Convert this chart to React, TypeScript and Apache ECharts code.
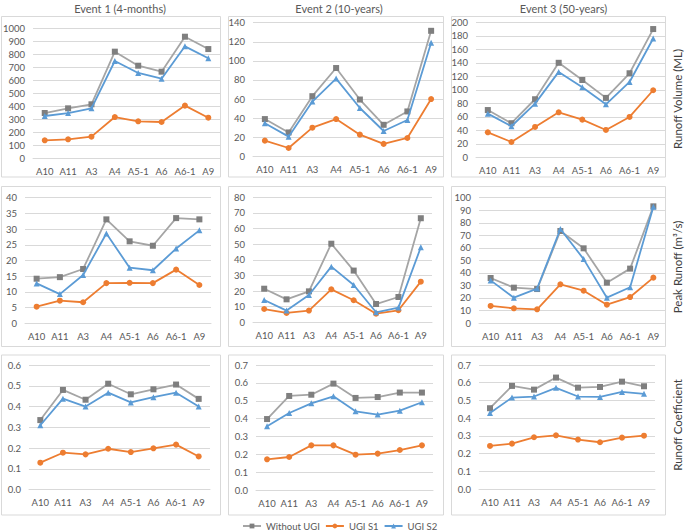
import React, { useEffect, useRef } from "react";
import * as echarts from "echarts";

const categories = ["A10", "A11", "A3", "A4", "A5-1", "A6", "A6-1", "A9"];
const seriesNames = ["Without UGI", "UGI S1", "UGI S2"];
const eventTitles = ["Event 1 (4-months)", "Event 2 (10-years)", "Event 3 (50-years)"];
const rowLabels = ["Runoff Volume (ML)", "Peak Runoff (m\u00b3/s)", "Runoff Coefficient"];

// Runoff Volume (ML)
const volE1Without = [346, 382, 413, 818, 710, 664, 933, 838];
const volE1S1 = [136, 144, 164, 315, 282, 277, 403, 310];
const volE1S2 = [323, 346, 382, 746, 654, 610, 859, 767];
const volE2Without = [39, 25, 63, 92.5, 59.5, 33, 47, 131.5];
const volE2S1 = [16.4, 8.7, 30, 39, 22.7, 13, 19.2, 60];
const volE2S2 = [34.6, 20.6, 57.3, 81.4, 50.6, 26.5, 38, 119];
const volE3Without = [70, 50.5, 86, 140, 114.5, 88, 124.5, 190];
const volE3S1 = [37, 22.7, 45, 66.7, 55.8, 40.5, 59.8, 99.3];
const volE3S2 = [64.7, 46, 79.5, 126.5, 103.7, 78.5, 111.6, 176];

// Peak Runoff (m3/s)
const peakE1Without = [14.2, 14.7, 17.3, 33.1, 26.1, 24.7, 33.5, 33.1];
const peakE1S1 = [5.3, 7.2, 6.7, 12.8, 12.9, 12.8, 17.1, 12.2];
const peakE1S2 = [12.7, 9.3, 15.4, 28.6, 17.7, 16.9, 23.8, 29.6];
const peakE2Without = [21.5, 14.7, 19.8, 50.3, 33.1, 11.7, 16.2, 66.6];
const peakE2S1 = [8.5, 6.0, 7.5, 21.1, 14.1, 5.5, 7.7, 26];
const peakE2S2 = [14.3, 7.5, 17.5, 35.6, 23.9, 6.4, 9.4, 48];
const peakE3Without = [35.9, 28.2, 27.1, 73.4, 59.6, 32.2, 43.4, 93.1];
const peakE3S1 = [13.6, 11.7, 10.9, 30.9, 25.8, 14.6, 20.7, 36.2];
const peakE3S2 = [34, 20.2, 27.5, 75, 51, 20.2, 28.5, 92.8];

// Runoff Coefficient
const coefE1Without = [0.335, 0.48, 0.433, 0.51, 0.459, 0.483, 0.506, 0.437];
const coefE1S1 = [0.13, 0.178, 0.17, 0.197, 0.181, 0.199, 0.217, 0.16];
const coefE1S2 = [0.31, 0.438, 0.4, 0.467, 0.42, 0.445, 0.467, 0.4];
const coefE2Without = [0.398, 0.527, 0.534, 0.596, 0.516, 0.521, 0.546, 0.546];
const coefE2S1 = [0.173, 0.186, 0.251, 0.251, 0.199, 0.205, 0.225, 0.251];
const coefE2S2 = [0.358, 0.432, 0.486, 0.525, 0.441, 0.423, 0.445, 0.492];
const coefE3Without = [0.456, 0.582, 0.561, 0.629, 0.572, 0.576, 0.606, 0.58];
const coefE3S1 = [0.243, 0.256, 0.292, 0.303, 0.279, 0.264, 0.29, 0.301];
const coefE3S2 = [0.429, 0.516, 0.522, 0.571, 0.522, 0.52, 0.548, 0.537];

// y-axis max / interval per panel (row-major)
const yMaxes = [1000, 140, 200, 40, 80, 100, 0.6, 0.7, 0.7];
const yIntervals = [100, 20, 20, 5, 10, 10, 0.1, 0.1, 0.1];

const panelData = [
  [volE1Without, volE1S1, volE1S2],
  [volE2Without, volE2S1, volE2S2],
  [volE3Without, volE3S1, volE3S2],
  [peakE1Without, peakE1S1, peakE1S2],
  [peakE2Without, peakE2S1, peakE2S2],
  [peakE3Without, peakE3S1, peakE3S2],
  [coefE1Without, coefE1S1, coefE1S2],
  [coefE2Without, coefE2S1, coefE2S2],
  [coefE3Without, coefE3S1, coefE3S2],
];

const gridBoxes = [
  { left: 31, top: 28, width: 189, height: 130 },
  { left: 253, top: 22.7, width: 190, height: 133.6 },
  { left: 476, top: 22.3, width: 189, height: 135 },
  { left: 25, top: 197.7, width: 186, height: 125.6 },
  { left: 253, top: 197.3, width: 179, height: 125 },
  { left: 479, top: 197.7, width: 186, height: 125.3 },
  { left: 29, top: 365, width: 181, height: 124.7 },
  { left: 256, top: 365, width: 177, height: 125.3 },
  { left: 479, top: 365, width: 176, height: 124 },
];

const FONT = "Lato, 'Liberation Sans', sans-serif";
const TEXT = "#595959";
const lineColors = ["#A5A5A5", "#ED7D31", "#5B9BD5"];
const markerColors = ["#7F7F7F", "#ED7D31", "#5B9BD5"];
const symbols = ["rect", "circle", "triangle"];
const symbolSizes = [6, 6, 6];

export default function App() {
  const ref = useRef<HTMLDivElement>(null);
  useEffect(() => {
    if (!ref.current) return;
    const chart = echarts.init(ref.current, null, { renderer: "svg" });

    const grids = gridBoxes.map((g) => ({ ...g, containLabel: false }));
    const xAxes = gridBoxes.map((_, i) => ({
      type: "category",
      gridIndex: i,
      data: categories,
      boundaryGap: true,
      axisTick: { show: false },
      axisLine: { show: true, lineStyle: { color: "#D9D9D9", width: 1 } },
      axisLabel: { color: TEXT, fontFamily: FONT, fontSize: 9.5, margin: 8, interval: 0 },
    }));
    const yAxes = gridBoxes.map((_, i) => ({
      type: "value",
      gridIndex: i,
      min: 0,
      max: yMaxes[i],
      interval: yIntervals[i],
      axisLine: { show: false },
      axisTick: { show: false },
      splitLine: { lineStyle: { color: "#D9D9D9", width: 1 } },
      axisLabel: {
        color: TEXT,
        fontFamily: FONT,
        fontSize: 9.5,
        margin: 8,
        formatter: i >= 6 ? (v: number) => v.toFixed(1) : (v: number) => String(v),
      },
    }));

    const series: any[] = [];
    panelData.forEach((set, p) => {
      set.forEach((vals, s) => {
        series.push({
          type: "line",
          name: seriesNames[s],
          xAxisIndex: p,
          yAxisIndex: p,
          data: vals,
          symbol: symbols[s],
          symbolSize: symbolSizes[s],
          lineStyle: { color: lineColors[s], width: 1.8 },
          itemStyle: { color: markerColors[s] },
          z: 2 + s,
        });
      });
    });

    const colX = [
      [1.5, 220.5],
      [228.5, 443.5],
      [451.5, 665.5],
    ];
    const rowY = [
      [16.5, 177],
      [186.5, 346.5],
      [355, 515],
    ];
    const graphics: any[] = [];
    rowY.forEach((ry) => {
      colX.forEach((cx) => {
        graphics.push({
          type: "rect",
          shape: { x: cx[0], y: ry[0], width: cx[1] - cx[0], height: ry[1] - ry[0] },
          style: { fill: "none", stroke: "#D9D9D9", lineWidth: 1 },
          silent: true,
          z: -1,
        });
      });
    });
    const titleX = [120, 339, 563.5];
    eventTitles.forEach((t, i) => {
      graphics.push({
        type: "text",
        x: titleX[i],
        y: 8,
        style: {
          text: t,
          fill: TEXT,
          font: `11px ${FONT}`,
          textAlign: "center",
          textVerticalAlign: "middle",
        },
      });
    });
    const labelY = [99, 267, 425];
    rowLabels.forEach((t, i) => {
      graphics.push({
        type: "text",
        x: 677,
        y: labelY[i],
        rotation: Math.PI / 2,
        style: {
          text: t,
          fill: "#404040",
          font: `11.5px ${FONT}`,
          textAlign: "center",
          textVerticalAlign: "middle",
        },
      });
    });

    chart.setOption({
      animation: false,
      grid: grids,
      xAxis: xAxes,
      yAxis: yAxes,
      series,
      legend: {
        data: seriesNames,
        left: 242,
        top: 521,
        itemWidth: 18,
        itemHeight: 6,
        itemGap: 5,
        textStyle: { color: TEXT, fontFamily: FONT, fontSize: 9.5 },
        padding: 0,
      },
      graphic: graphics,
    });
    return () => chart.dispose();
  }, []);
  return (
    <div
      ref={ref}
      style={{ position: "fixed", left: 0, top: 0, width: 685, height: 532, background: "#fff" }}
    />
  );
}
